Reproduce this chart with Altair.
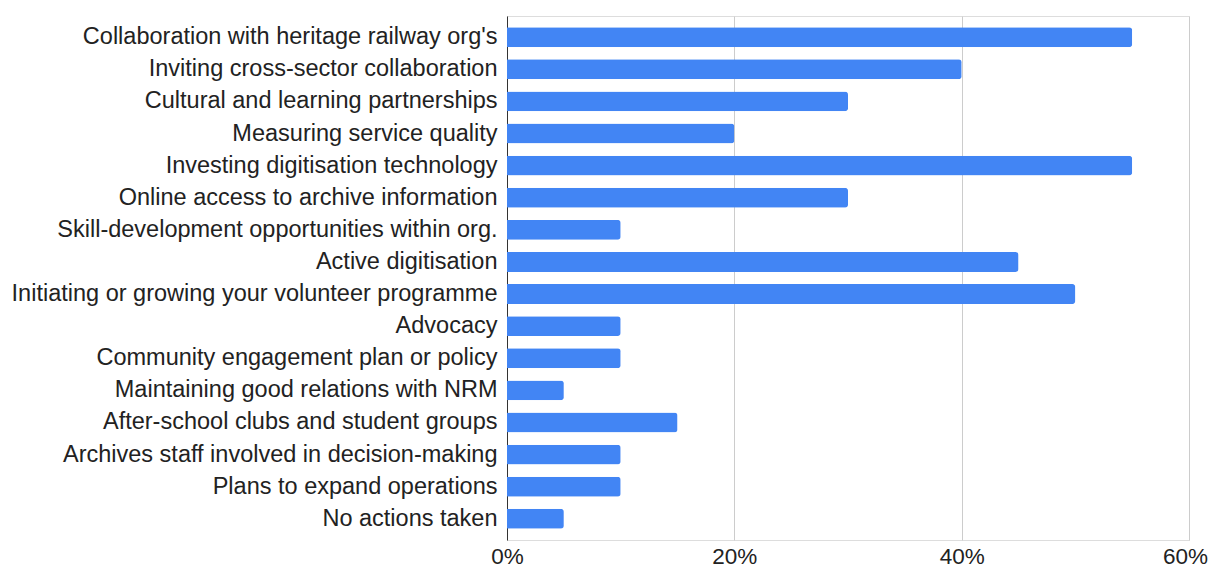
import altair as alt
import pandas as pd

categories = [
    "Collaboration with heritage railway org's",
    "Inviting cross-sector collaboration",
    "Cultural and learning partnerships",
    "Measuring service quality",
    "Investing digitisation technology",
    "Online access to archive information",
    "Skill-development opportunities within org.",
    "Active digitisation",
    "Initiating or growing your volunteer programme",
    "Advocacy",
    "Community engagement plan or policy",
    "Maintaining good relations with NRM",
    "After-school clubs and student groups",
    "Archives staff involved in decision-making",
    "Plans to expand operations",
    "No actions taken",
]
values = [0.55, 0.40, 0.30, 0.20, 0.55, 0.30, 0.10, 0.45, 0.50, 0.10, 0.10, 0.05, 0.15, 0.10, 0.10, 0.05]
x_ticks = [0, 0.2, 0.4, 0.6]

df = pd.DataFrame({"category": categories, "value": values})

FONT = "Liberation Sans"

chart = (
    alt.Chart(df)
    .mark_bar(color="#4285F4", cornerRadiusEnd=3)
    .encode(
        x=alt.X(
            "value:Q",
            scale=alt.Scale(domain=[0, 0.6], nice=False),
            axis=alt.Axis(
                values=x_ticks,
                format=".0%",
                title=None,
                domain=False,
                ticks=False,
                grid=True,
                gridColor="#cccccc",
                gridWidth=1,
                labelFont=FONT,
                labelFontSize=22.5,
                labelColor="#222222",
                labelPadding=5,
                labelFlush=False,
                labelOffset={"condition": {"test": "datum.value >= 0.59", "value": -4}, "value": 0},
            ),
        ),
        y=alt.Y(
            "category:N",
            sort=categories,
            scale=alt.Scale(paddingInner=0.38, paddingOuter=0.35),
            axis=alt.Axis(
                title=None,
                domain=True,
                domainColor="#333333",
                domainWidth=1,
                ticks=False,
                grid=False,
                labelFont=FONT,
                labelFontSize=23.5,
                labelColor="#222222",
                labelPadding=10,
                labelLimit=600,
            ),
        ),
    )
    .properties(
        width=682,
        height=524,
        autosize=alt.AutoSizeParams(type="none"),
        padding={"left": 499, "top": 8, "right": 20, "bottom": 27},
    )
    .configure_view(stroke=None)
    .configure(background="white")
)

chart.save("out.html", embed_options={"renderer": "svg", "actions": False})
